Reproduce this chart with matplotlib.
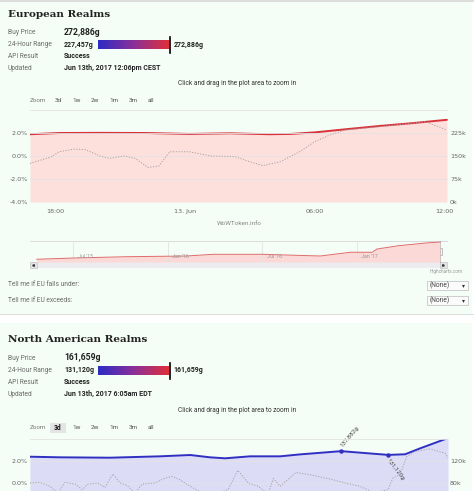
import numpy as np
import matplotlib.pyplot as plt
from matplotlib.patches import Rectangle
from matplotlib.colors import LinearSegmentedColormap
from matplotlib.transforms import blended_transform_factory

W, H = 474, 491

# ---- EU main chart (hours since 12 Jun 00:00) ----
eu_hours = [16.85, 18.2, 20.1, 22.2, 24.2, 26.1, 27.9, 28.9, 30.0, 31.4, 33.0, 34.4, 36.1]
eu_price = [221, 225, 225.5, 225, 222, 224, 221, 222, 227, 237, 248, 256.5, 268]  # k gold
eu_pct_hours = [16.85, 17.8, 18.2, 18.9, 19.4, 20.1, 20.5, 21.2, 21.7, 22.3, 22.8, 23.3, 24.2,
                25.2, 26.3, 27.0, 27.6, 28.4, 29.3, 30.0, 30.7, 31.4, 33.0, 34.4, 35.1, 36.1]
eu_pct = [-0.64, -0.1, 0.37, 0.6, 0.55, 0.0, -0.2, 0.0, -0.2, -1.0, -0.87, 0.37, 0.37,
          0.0, -0.05, -0.5, -0.84, -0.5, 0.37, 1.25, 1.83, 2.26, 2.55, 2.84, 2.98, 2.26]
eu_xticks = [18, 24, 30, 36]
eu_xlabels = ['18:00', '13. Jun', '06:00', '12:00']

# ---- EU navigator (months since Jan 2015) ----
nav_months = [3.7, 6.0, 9.4, 13.2, 14.9, 18.0, 21.7, 23.6, 25.0, 25.3, 26.7, 28.6, 29.3]
nav_price = [55, 71, 88, 97, 119, 119, 97, 145, 145, 187, 230, 268, 277]
nav_ticks = [6, 12, 18, 24]
nav_labels = ["Jul '15", "Jan '16", "Jul '16", "Jan '17"]

# ---- NA chart (hours, last 3 days) ----
na_hours = [0, 5.2, 13.8, 22.4, 27.6, 31.0, 33.6, 37.9, 43.1, 46.5, 53.6, 61.7, 64.6, 67.2, 72.0]
na_price = [127.8, 126.7, 126, 128.5, 130.9, 126.7, 124.9, 128.5, 128.5, 132, 137.9, 131.1,
            132.2, 143, 161.7]
na_pct_hours = [0, 1.7, 3.4, 4.8, 6.0, 7.8, 9.0, 10.0, 11.7, 12.9, 14.3, 15.5, 16.7, 18.1,
                19.3, 21.5, 23.3, 24.5, 25.8, 27.6, 29.3, 31.9, 34.1, 35.8, 37.6, 39.3, 41.0,
                41.9, 43.1, 45.8, 48.2, 51.7, 54.3, 56.8, 59.4, 61.7, 62.5, 63.7, 64.9, 66.3,
                68.9, 71.5, 72.0]
na_pct = [0.0, 0.05, -0.3, -0.9, 0.05, -0.1, -0.6, -0.1, 0.0, -0.4, 0.82, 0.0, -0.2, -0.9,
          -0.1, 0.0, 0.45, 0.6, 0.3, -0.3, -0.8, -1.0, -0.6, 1.15, 0.0, -0.3, -1.0,
          0.4, -0.3, 0.96, 0.75, 0.36, 0.0, -0.3, -0.9, -0.6, 0.45, 0.75, 2.4, 2.87,
          3.1, 2.7, 2.27]
na_high = (53.6, 137.9, '137,882g')
na_low = (61.7, 131.1, '131,120g')

zoom_buttons = ['3d', '1w', '2w', '1m', '3m', 'all']
zoom_x = [58, 77, 95, 114, 133, 151]

MINT = '#f4fdf6'
UI = 'Roboto'
LABEL_C = '#6b6b6b'

fig = plt.figure(figsize=(W / 100, H / 100), dpi=100)
fig.patch.set_facecolor('white')
bg = fig.add_axes([0, 0, 1, 1])
bg.axis('off')


def px_axes(x0, y0, x1, y1):
    a = fig.add_axes([x0 / W, 1 - y1 / H, (x1 - x0) / W, (y1 - y0) / H])
    a.set_facecolor('none')
    for s in a.spines.values():
        s.set_visible(False)
    return a


def txt(x, y, s, size=4.8, color=LABEL_C, weight='normal', ha='left', **kw):
    bg.text(x, y, s, fontsize=size, color=color, fontweight=weight, ha=ha, va='center',
            family=UI, **kw)


# page background
bg.add_patch(Rectangle((0, 0), W, 2, color='#dddddd', lw=0))
bg.add_patch(Rectangle((0, 2), 472, 312, color=MINT, lw=0))
bg.add_patch(Rectangle((0, 314), W, 0.8, color='#dddddd', lw=0))
bg.add_patch(Rectangle((0, 323), 472, H - 323, color=MINT, lw=0))

grad = LinearSegmentedColormap.from_list('rng', ['#2c2cc4', '#8a2f9a', '#e0303a'])


def header(y0, title, price, low, high, updated):
    bg.text(8, y0, title, fontsize=7.5, fontweight='bold', family='DejaVu Serif',
            color='#222222', va='center')
    rows = [('Buy Price', 18), ('24-Hour Range', 30.5), ('API Result', 42), ('Updated', 54)]
    for lab, dy in rows:
        txt(8, y0 + dy, lab)
    txt(64, y0 + 18, price, size=6.2, color='#222222', weight='bold')
    txt(64, y0 + 30.5, low, size=5.0, color='#222222', weight='bold')
    bg.imshow(np.linspace(0, 1, 256).reshape(1, -1), cmap=grad, aspect='auto',
              extent=(98, 169, y0 + 35, y0 + 26.5), zorder=2)
    bg.plot([170, 170], [y0 + 23, y0 + 38.5], color='black', lw=1.2, zorder=3)
    txt(173.5, y0 + 30.5, high, size=5.0, color='#222222', weight='bold')
    txt(64, y0 + 42, 'Success', size=5.0, color='#222222', weight='bold')
    txt(64, y0 + 54, updated, size=5.0, color='#222222', weight='bold')


def zoom_row(y, active=None):
    txt(30, y, 'Zoom', size=4.6, color='#777777')
    for lab, x in zip(zoom_buttons, zoom_x):
        if lab == active:
            bg.add_patch(Rectangle((x - 8, y - 5), 16, 10, color='#e4e4e4', lw=0))
            txt(x, y, lab, size=4.8, color='#111111', weight='bold', ha='center')
        else:
            txt(x, y, lab, size=4.6, color='#555555', ha='center')


def price_chart(ax, hours, price, pct_hours, pct, xlim, pmax, pticks, plabels,
                line_c, fill_c, lticks, llabels):
    ax.set_xlim(*xlim)
    ax.set_ylim(-4, 4)
    ax.set_yticks(lticks)
    ax.set_yticklabels(llabels)
    ax.grid(axis='y', color='#e3e3e3', lw=0.6)
    ax.tick_params(length=0, labelsize=4.6, labelcolor='#666666', pad=1.5)
    ax2 = ax.twinx()
    ax2.set_facecolor('none')
    for s in ax2.spines.values():
        s.set_visible(False)
    ax2.set_ylim(0, pmax)
    ax2.set_yticks(pticks)
    ax2.set_yticklabels(plabels)
    ax2.tick_params(length=0, labelsize=4.6, labelcolor='#666666', pad=1.5)
    ax2.fill_between(hours, price, 0, color=fill_c, lw=0)
    ax2.plot(hours, price, color=line_c, lw=1.4, solid_capstyle='round')
    ax.set_zorder(ax2.get_zorder() + 1)
    ax.plot(pct_hours, pct, color='#a8a0a8', lw=0.7, ls=(0, (1.2, 1.6)))
    return ax2


# ================= European Realms =================
header(14, 'European Realms', '272,886g', '227,457g', '272,886g',
       'Jun 13th, 2017 12:06pm CEST')
txt(237, 83.5, 'Click and drag in the plot area to zoom in', size=4.7, color='#333333',
    ha='center')
zoom_row(100)

ax_eu = px_axes(30, 110, 448, 202)
price_chart(ax_eu, eu_hours, eu_price, eu_pct_hours, eu_pct, (16.85, 36.15), 300,
            [0, 75, 150, 225, 300], ['0k', '75k', '150k', '225k', ''], '#d9323a', '#fde0dc',
            [-4, -2, 0, 2, 4], ['-4.0%', '-2.0%', '0.0%', '2.0%', ''])
ax_eu.set_xticks(eu_xticks)
ax_eu.set_xticklabels(eu_xlabels)
ax_eu.tick_params(axis='x', pad=5)
txt(239, 223.5, 'WoWToken.info', size=4.6, color='#888888', ha='center')

# navigator
nav = px_axes(30, 241, 440, 262)
nav.set_xlim(3.27, 29.3)
nav.set_ylim(20, 290)
nav.set_xticks(nav_ticks)
nav.set_xticklabels([])
nav.set_yticks([])
nav.tick_params(length=0)
nav.grid(axis='x', color='#e3e3e3', lw=0.6)
nav.fill_between(nav_months, nav_price, 20, color='#fbd9d6', lw=0)
nav.plot(nav_months, nav_price, color='#e06a6a', lw=0.7)
tr = blended_transform_factory(nav.transData, nav.transAxes)
for m, lab in zip(nav_ticks, nav_labels):
    nav.text(m + 0.3, 0.25, lab, transform=tr, fontsize=3.8, color='#999999', family=UI,
             va='center')
bg.plot([30, 447], [241, 241], color='#d6d6d6', lw=0.6)
bg.add_patch(Rectangle((30, 262), 417, 6, color='#ececf0', lw=0))
for bx, mk in [(30, '<'), (440, '>')]:
    bg.add_patch(Rectangle((bx, 262.3), 7, 5.6, facecolor='#e4e4e4', edgecolor='#bbbbbb',
                           lw=0.4))
    bg.plot(bx + 3.5, 265.1, marker=mk, ms=1.2, color='#333333')
bg.plot([440, 440], [241, 262], color='#999999', lw=0.6)
bg.add_patch(Rectangle((438.3, 247.5), 3.4, 7, facecolor='#f2f2f2', edgecolor='#999999',
                       lw=0.4))
txt(446, 271.3, 'Highcharts.com', size=3.3, color='#999999', ha='center')

txt(8, 285, 'Tell me if EU falls under:', size=4.8)
txt(8, 300.5, 'Tell me if EU exceeds:', size=4.8)
for yy in (280.7, 296):
    bg.add_patch(Rectangle((427, yy), 41, 8.8, facecolor='#fbfbfb', edgecolor='#bbbbbb',
                           lw=0.5))
    txt(430, yy + 4.4, '(None)', size=4.8, color='#444444')
    bg.text(463, yy + 4.4, '\u25be', fontsize=4.2, color='#333333', ha='center',
            va='center', family='DejaVu Sans')

# ================= North American Realms =================
header(340, 'North American Realms', '161,659g', '131,120g', '161,659g',
       'Jun 13th, 2017 6:05am EDT')
txt(237, 410.5, 'Click and drag in the plot area to zoom in', size=4.7, color='#333333',
    ha='center')
zoom_row(427.5, active='3d')

# lower half of this chart lies below the page edge, only visible ticks are labelled
ax_na = px_axes(30, 439, 448, 527)
ax_na_r = price_chart(ax_na, na_hours, na_price, na_pct_hours, na_pct, (0, 72), 160,
                      [80, 120, 160], ['80k', '120k', ''], '#2f2fc2', '#dcdcf7',
                      [0, 2, 4], ['0.0%', '2.0%', ''])
ax_na.set_xticks([])
for (h, v, lab), rot, off in [(na_high, 50, (1.5, 2.5)), (na_low, -52, (1.0, -2.0))]:
    ax_na_r.plot(h, v, marker='o', ms=2.2, color='#2f2fc2')
    ax_na_r.annotate(lab, (h, v), xytext=off, textcoords='offset points', rotation=rot,
                     rotation_mode='anchor', fontsize=4.4, color='#444444', family=UI,
                     ha='left', va='bottom' if rot > 0 else 'top')

bg.set_xlim(0, W)
bg.set_ylim(H, 0)
fig.savefig('out.png', dpi=100)
